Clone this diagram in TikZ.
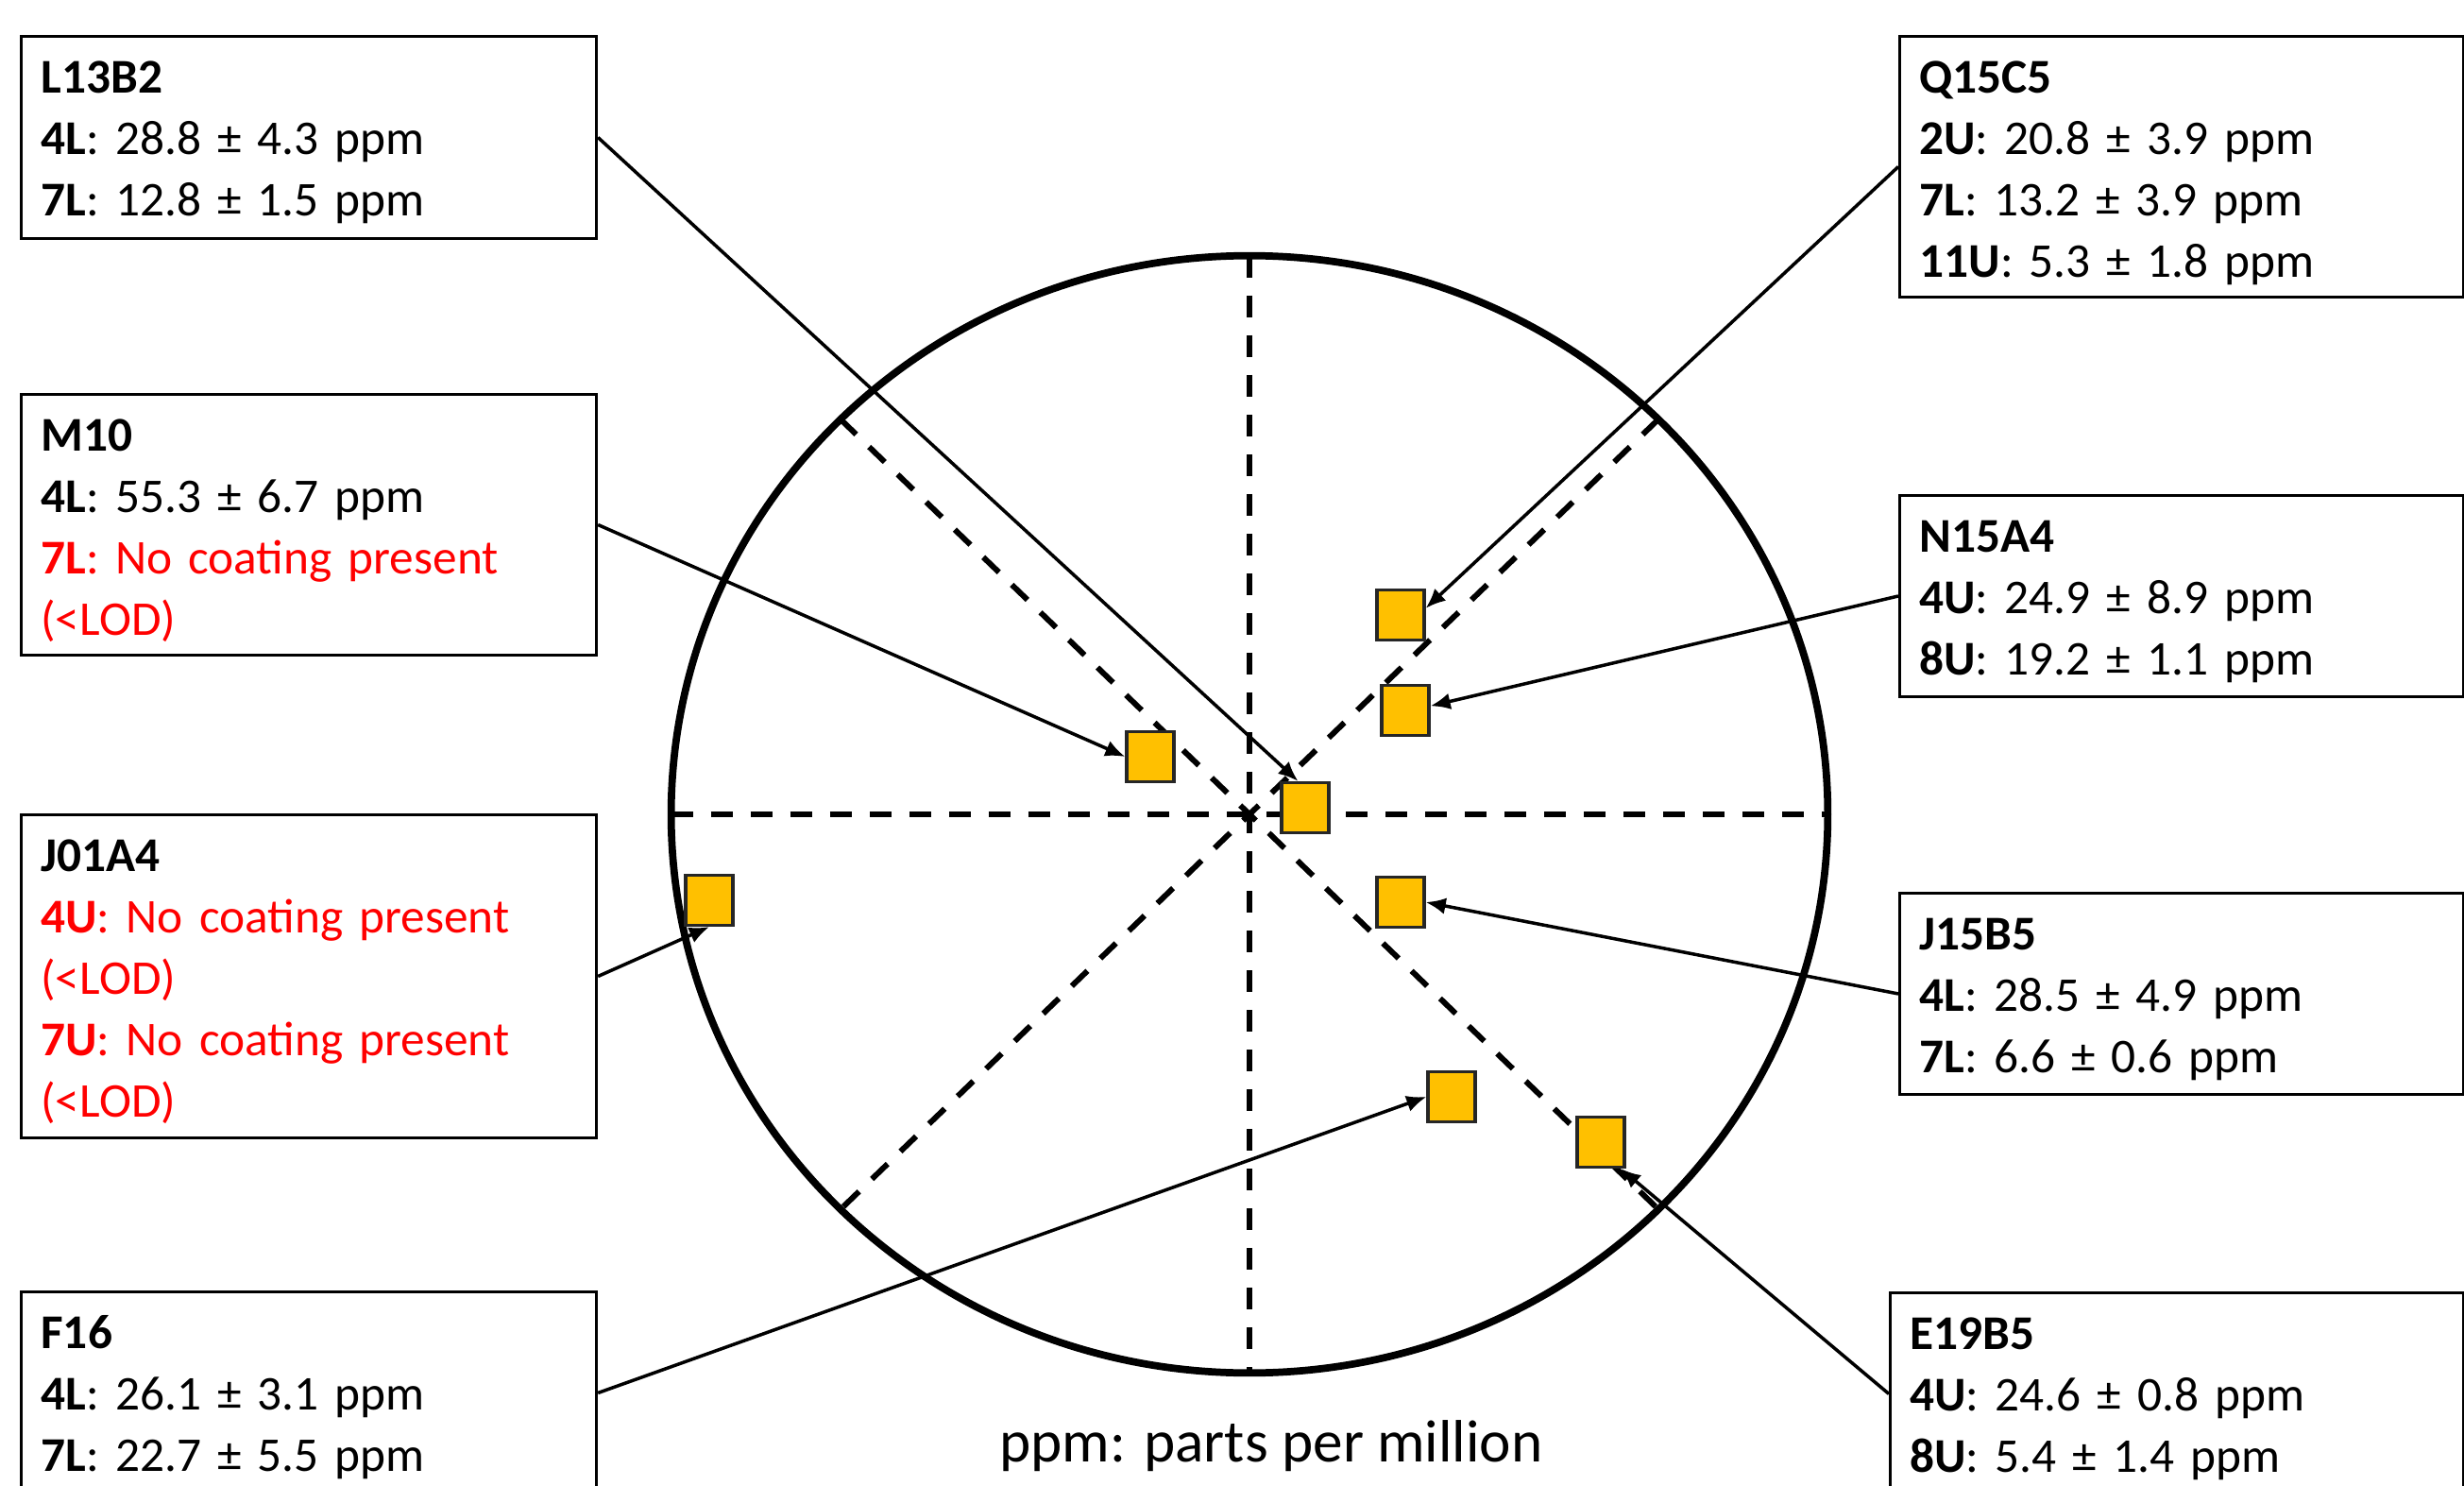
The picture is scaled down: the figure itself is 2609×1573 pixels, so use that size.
\documentclass[tikz,border=0pt]{standalone}
\usepackage{fontspec}
\setmainfont{Carlito}
\usetikzlibrary{shapes.geometric,arrows.meta}
\definecolor{chipgold}{HTML}{FFC000}
\newcommand{\boxfont}{\fontsize{14.6pt}{18.5pt}\selectfont}
\tikzset{
  infobox/.style={draw, line width=0.8pt, fill=white, anchor=north west, align=left,
    font=\boxfont, inner xsep=0.21cm, inner ysep=0pt, text height=0.6cm},
  chip/.style={draw=black!85, line width=0.9pt, fill=chipgold, minimum width=0.5cm,
    minimum height=0.53cm, inner sep=0pt},
  conn/.style={line width=1pt, -{Latex[length=6pt,width=5pt]}},
  axisline/.style={line width=1.7pt, dash pattern=on 0.23cm off 0.19cm},
}
\begin{document}
\begin{tikzpicture}[x=0.01cm, y=-0.01cm]
  \useasboundingbox (0,0) rectangle (2609,1573);
  % wafer and its axes
  \node[ellipse, draw, line width=2.2pt, minimum width=12.24cm, minimum height=11.82cm,
        inner sep=0pt, outer sep=0pt] (wafer) at (1323,862) {};
  \foreach \a/\b in {north/south, west/east, north west/south east, north east/south west}
    \draw[axisline] (wafer.\a) -- (wafer.\b);
  % sample boxes, left
  \node[infobox, text width=5.67cm, text depth=1.54cm] (L13B2) at (21,37)
    {\textbf{L13B2}\\ \textbf{4L}: 28.8 ± 4.3 ppm\\ \textbf{7L}: 12.8 ± 1.5 ppm};
  \node[infobox, text width=5.67cm, text depth=2.16cm] (M10) at (21,416)
    {\textbf{M10}\\ \textbf{4L}: 55.3 ± 6.7 ppm\\
     \textcolor{red}{\textbf{7L}: No coating present}\\ \textcolor{red}{(<LOD)}};
  \node[infobox, text width=5.67cm, text depth=2.82cm] (J01A4) at (21,861)
    {\textbf{J01A4}\\ \textcolor{red}{\textbf{4U}: No coating present}\\ \textcolor{red}{(<LOD)}\\
     \textcolor{red}{\textbf{7U}: No coating present}\\ \textcolor{red}{(<LOD)}};
  \node[infobox, text width=5.67cm, text depth=1.54cm] (F16) at (21,1366)
    {\textbf{F16}\\ \textbf{4L}: 26.1 ± 3.1 ppm\\ \textbf{7L}: 22.7 ± 5.5 ppm};
  % sample boxes, right
  \node[infobox, text width=5.55cm, text depth=2.16cm] (Q15C5) at (2010,37)
    {\textbf{Q15C5}\\ \textbf{2U}: 20.8 ± 3.9 ppm\\ \textbf{7L}: 13.2 ± 3.9 ppm\\ \textbf{11U}: 5.3 ± 1.8 ppm};
  \node[infobox, text width=5.55cm, text depth=1.53cm] (N15A4) at (2010,523)
    {\textbf{N15A4}\\ \textbf{4U}: 24.9 ± 8.9 ppm\\ \textbf{8U}: 19.2 ± 1.1 ppm};
  \node[infobox, text width=5.55cm, text depth=1.53cm] (J15B5) at (2010,944)
    {\textbf{J15B5}\\ \textbf{4L}: 28.5 ± 4.9 ppm\\ \textbf{7L}: 6.6 ± 0.6 ppm};
  \node[infobox, text width=5.65cm, text depth=1.54cm] (E19B5) at (2000,1367)
    {\textbf{E19B5}\\ \textbf{4U}: 24.6 ± 0.8 ppm\\ \textbf{8U}: 5.4 ± 1.4 ppm};
  % sampling points
  \foreach \n/\x/\y in {sqQ/1483/651, sqN/1488/752, sqM/1218/801, sqL/1382/855,
                        sqJ01/751/953, sqJ15/1483/955, sqF/1537/1161, sqE/1695/1209}
    \node[chip] (\n) at (\x,\y) {};
  \foreach \s/\t in {L13B2.east/sqL.105, M10.east/sqM.west, J01A4.east/sqJ01.south,
                     F16.east/sqF.west, Q15C5.west/sqQ.15, N15A4.west/sqN.10,
                     J15B5.west/sqJ15.east, E19B5.west/sqE.-53}
    \draw[conn] (\s) -- (\t);
  \node[font=\fontsize{18pt}{22pt}\selectfont, anchor=base] (note) at (1346,1547) {ppm: parts per million};
\end{tikzpicture}
\end{document}
